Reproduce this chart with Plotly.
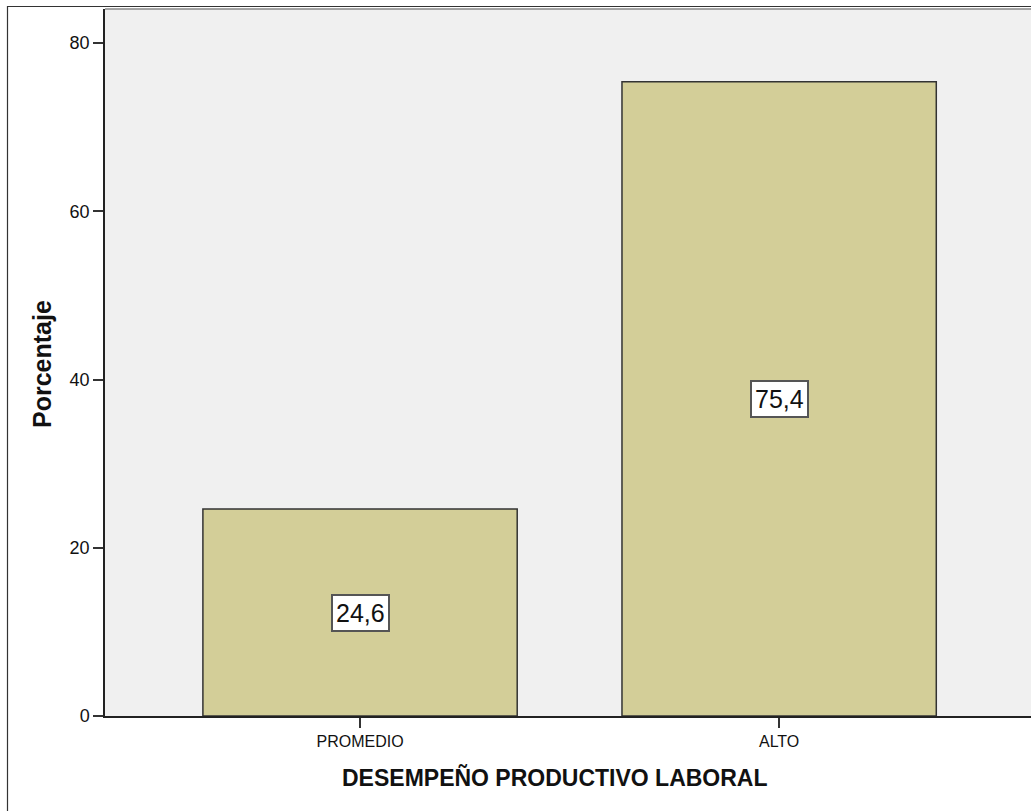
import plotly.graph_objects as go

categories = ["PROMEDIO", "ALTO"]
values = [24.6, 75.4]
y_ticks = [0, 20, 40, 60, 80]

W, H = 1031, 811
L, R, T, B = 105, 0, 9, 95
pw = W - L - R
ph = H - T - B

def px_x(p):
    return (p - L) / pw

def px_y(p):
    return (H - B - p) / ph

labels = [f"{v:.1f}".replace(".", ",") for v in values]

fig = go.Figure()
fig.add_trace(go.Bar(
    x=[0, 1], y=values, width=0.75,
    marker=dict(color="#D3CE98", line=dict(color="#333333", width=1.5)),
    hoverinfo="skip",
))

for i, (v, lab) in enumerate(zip(values, labels)):
    fig.add_annotation(
        x=i, y=v / 2, xref="x", yref="y", text=lab, showarrow=False,
        font=dict(family="Liberation Sans, Arial", size=25, color="#111111"),
        bgcolor="white", bordercolor="#555555", borderwidth=2, borderpad=3,
    )

# x axis title
fig.add_annotation(
    x=px_x(555), y=px_y(777), xref="paper", yref="paper",
    text="<b>DESEMPEÑO PRODUCTIVO LABORAL</b>", showarrow=False,
    font=dict(family="Liberation Sans, Arial", size=23, color="#111111"),
    xanchor="center", yanchor="middle",
)
# y axis title
fig.add_annotation(
    x=px_x(42), y=px_y(364), xref="paper", yref="paper",
    text="<b>Porcentaje</b>", showarrow=False, textangle=-90,
    font=dict(family="Liberation Sans, Arial", size=25, color="#111111"),
    xanchor="center", yanchor="middle",
)

# outer frame
fig.add_shape(type="rect", xref="paper", yref="paper",
              x0=px_x(7.5), x1=px_x(1045), y0=px_y(825), y1=px_y(6.5),
              line=dict(color="#333333", width=1.2), fillcolor="rgba(0,0,0,0)", layer="above")
# plot top line
fig.add_shape(type="line", xref="paper", yref="paper",
              x0=0, x1=1.01, y0=1, y1=1,
              line=dict(color="#888888", width=1.5), layer="above")

fig.update_layout(
    width=W, height=H,
    margin=dict(l=L, r=R, t=T, b=B, pad=0),
    paper_bgcolor="white", plot_bgcolor="#F0F0F0",
    showlegend=False, separators=",.",
    font=dict(family="Liberation Sans, Arial", color="#111111"),
    bargap=0.25,
)
fig.update_xaxes(
    range=[-0.6086, 1.601], tickvals=[0, 1], ticktext=categories,
    ticks="outside", ticklen=10, tickwidth=1.5, tickcolor="#333333",
    showline=True, linecolor="#222222", linewidth=1.5,
    showgrid=False, zeroline=False,
    tickfont=dict(size=16, family="Liberation Sans, Arial", color="#111111"),
    fixedrange=True,
)
fig.update_yaxes(
    range=[0, 84.05], tickvals=y_ticks,
    ticks="outside", ticklen=10, tickwidth=1.5, tickcolor="#333333",
    showline=True, linecolor="#222222", linewidth=1.5,
    showgrid=False, zeroline=False,
    tickfont=dict(size=18, family="Liberation Sans, Arial", color="#111111"),
    ticklabelstandoff=0,
    fixedrange=True,
)

fig.write_html("out.html")
